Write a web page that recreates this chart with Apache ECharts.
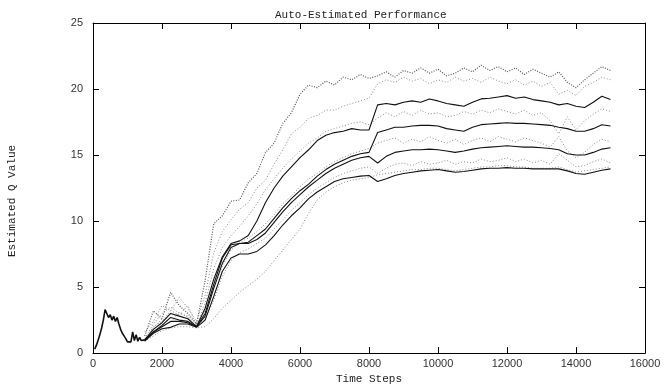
<!DOCTYPE html>
<html>
<head>
<meta charset="utf-8">
<script src="https://cdn.jsdelivr.net/npm/echarts@6/dist/echarts.min.js"></script>
<style>
  html, body { margin: 0; padding: 0; background: #fff; }
  #chart { width: 669px; height: 390px; }
</style>
</head>
<body>
<div id="chart"></div>
<script>
// warm-up segment, all runs overlap here
const warmSteps = [50, 100, 150, 200, 250, 300, 350, 400, 450, 500, 550, 600, 650, 700, 750, 800, 850, 900, 950, 1000,
  1050, 1100, 1150, 1200, 1250, 1300, 1350, 1400, 1450, 1500];
const warmQ = [0.3, 0.6, 1.0, 1.4, 1.9, 2.5, 3.3, 3.0, 2.7, 2.9, 2.5, 2.8, 2.4, 2.7, 2.2, 1.8, 1.5, 1.3, 1.1, 0.85,
  0.8, 0.85, 1.6, 0.95, 1.4, 0.9, 1.2, 0.95, 0.9, 1.0];

const steps = [1500, 1750, 2000, 2250, 2500, 2750, 3000, 3250, 3500, 3750, 4000, 4250, 4500, 4750, 5000, 5250, 5500,
  5750, 6000, 6250, 6500, 6750, 7000, 7250, 7500, 7750, 8000, 8250, 8500, 8750, 9000, 9250, 9500, 9750, 10000,
  10250, 10500, 10750, 11000, 11250, 11500, 11750, 12000, 12250, 12500, 12750, 13000, 13250, 13500, 13750, 14000,
  14250, 14500, 14750, 15000];

// solid runs
const run1 = [1.0, 1.8, 2.3, 3.0, 2.8, 2.6, 2.0, 3.4, 5.6, 7.3, 8.3, 8.5, 8.9, 10.0, 11.4, 12.5, 13.4, 14.1, 14.8,
  15.4, 16.1, 16.5, 16.7, 16.8, 17.0, 16.9, 16.9, 18.8, 18.9, 18.8, 19.0, 19.1, 19.0, 19.25, 19.1, 18.9, 18.8, 18.7,
  19.0, 19.25, 19.3, 19.4, 19.5, 19.3, 19.4, 19.2, 19.1, 19.0, 18.8, 18.9, 18.7, 18.6, 19.0, 19.45, 19.2];
const run2 = [1.0, 1.6, 2.1, 2.7, 2.5, 2.4, 2.0, 3.0, 5.2, 7.2, 8.2, 8.3, 8.4, 8.9, 9.4, 10.2, 11.0, 11.7, 12.3,
  12.8, 13.4, 13.9, 14.3, 14.6, 14.9, 15.1, 15.2, 16.7, 16.9, 17.1, 17.1, 17.2, 17.25, 17.25, 17.2, 17.0, 16.9, 16.8,
  17.1, 17.3, 17.35, 17.4, 17.45, 17.4, 17.4, 17.35, 17.3, 17.25, 17.1, 17.0, 16.8, 16.8, 17.0, 17.3, 17.2];
const run3 = [0.95, 1.6, 2.0, 2.4, 2.4, 2.3, 2.0, 2.8, 4.9, 6.8, 8.0, 8.3, 8.3, 8.6, 9.1, 9.9, 10.7, 11.4, 12.0,
  12.6, 13.1, 13.6, 14.0, 14.3, 14.6, 14.8, 14.9, 14.4, 14.9, 15.2, 15.3, 15.4, 15.4, 15.45, 15.4, 15.3, 15.2, 15.3,
  15.45, 15.55, 15.6, 15.65, 15.7, 15.65, 15.6, 15.6, 15.55, 15.5, 15.4, 15.1, 15.0, 15.0, 15.2, 15.45, 15.55];
const run4 = [0.9, 1.5, 1.85, 1.95, 2.2, 2.2, 1.95, 2.5, 4.3, 6.2, 7.2, 7.5, 7.5, 7.7, 8.2, 8.9, 9.7, 10.4, 11.0,
  11.7, 12.2, 12.6, 13.0, 13.2, 13.3, 13.4, 13.45, 13.0, 13.2, 13.45, 13.6, 13.7, 13.8, 13.85, 13.9, 13.8, 13.7, 13.75,
  13.85, 13.95, 14.0, 14.0, 14.05, 14.0, 14.0, 13.95, 13.95, 13.95, 13.95, 13.8, 13.6, 13.55, 13.7, 13.85, 13.95];

// dotted runs
const dotTop = [1.3, 3.2, 2.6, 4.6, 3.6, 3.0, 2.2, 5.5, 9.8, 10.4, 11.5, 11.6, 12.9, 13.6, 15.2, 15.9, 17.4, 18.2,
  19.6, 20.3, 20.1, 20.6, 20.3, 20.9, 20.7, 21.1, 20.8, 21.0, 21.3, 20.9, 21.4, 21.2, 21.6, 21.2, 21.5, 21.0, 21.2,
  21.6, 21.3, 21.8, 21.4, 21.7, 21.3, 21.6, 21.1, 21.5, 21.2, 20.9, 21.3, 20.5, 20.1, 20.7, 21.2, 21.7, 21.4];
const dotA = [1.6, 2.4, 3.6, 3.2, 4.2, 3.4, 2.4, 4.4, 7.6, 9.2, 10.1, 10.9, 11.4, 12.5, 13.1, 14.3, 15.4, 16.6, 17.1,
  17.8, 18.0, 18.4, 18.4, 18.7, 18.9, 19.1, 19.3, 20.4, 20.7, 20.5, 20.9, 20.6, 20.8, 20.4, 20.7, 20.5, 20.9, 20.6,
  20.8, 20.5, 20.9, 20.6, 20.4, 20.7, 20.3, 20.6, 20.2, 20.5, 19.6, 19.9, 19.5, 20.2, 20.5, 20.9, 20.7];
const dotB = [1.1, 2.2, 3.0, 3.5, 3.0, 2.8, 2.1, 3.8, 6.4, 8.0, 8.9, 9.6, 10.4, 11.3, 12.4, 13.2, 14.0, 14.7, 15.3,
  15.9, 16.3, 16.8, 17.0, 17.2, 17.4, 17.5, 17.3, 17.8, 18.2, 17.9, 18.3, 18.0, 18.4, 18.1, 18.2, 17.9, 18.0, 18.3,
  18.1, 18.4, 18.2, 18.5, 18.3, 18.1, 18.4, 18.0, 18.2, 17.6, 16.6, 17.9, 16.9, 17.6, 18.1, 18.5, 18.3];
const dotC = [1.0, 2.0, 2.4, 3.2, 2.9, 3.6, 2.1, 3.2, 5.0, 6.6, 7.8, 8.4, 8.7, 9.2, 9.8, 10.5, 11.3, 11.9, 12.6,
  13.2, 13.6, 14.1, 14.5, 14.8, 15.1, 15.3, 15.5, 15.9, 16.1, 16.3, 15.9, 16.2, 16.0, 16.4, 16.1, 15.9, 16.2, 15.8,
  16.1, 16.3, 16.0, 16.4, 16.2, 16.0, 16.3, 16.1, 15.9, 15.6, 16.4, 15.3, 14.8, 15.2, 15.8, 16.2, 16.0];
const dotD = [0.9, 1.9, 2.6, 2.3, 3.1, 2.7, 2.0, 2.6, 4.0, 5.8, 7.0, 7.6, 7.9, 8.3, 8.7, 9.4, 10.1, 10.8, 11.4,
  12.0, 12.5, 12.9, 13.3, 13.6, 13.8, 14.0, 14.1, 13.6, 14.0, 14.3, 14.4, 14.2, 14.5, 14.3, 14.4, 14.6, 14.3, 14.5,
  14.4, 14.7, 14.5, 14.6, 14.8, 14.5, 14.7, 14.4, 14.6, 14.3, 15.1, 14.6, 14.1, 14.2, 14.5, 14.7, 14.4];
const dotE = [0.9, 1.3, 1.7, 1.9, 2.0, 2.0, 1.9, 2.0, 2.6, 3.4, 4.0, 4.6, 5.1, 5.6, 6.2, 7.0, 7.8, 8.6, 9.4,
  10.6, 11.6, 12.2, 12.6, 12.9, 13.1, 13.2, 13.3, 13.5, 13.6, 13.7, 13.8, 13.9, 13.9, 14.0, 14.0, 13.9, 13.8, 13.9,
  14.0, 14.1, 14.1, 14.2, 14.2, 14.1, 14.1, 14.0, 14.0, 14.0, 14.1, 13.9, 13.7, 13.8, 13.9, 14.0, 14.1];

const xTicks = [0, 2000, 4000, 6000, 8000, 10000, 12000, 14000, 16000];
const yTicks = [0, 5, 10, 15, 20, 25];

const pair = (xs, ys) => xs.map((x, i) => [x, ys[i]]);

const monoFont = "Liberation Mono";
const sansFont = "Liberation Sans";

const chart = echarts.init(document.getElementById("chart"), null, { renderer: "canvas" });

const dottedRuns = [dotE, dotD, dotC, dotB, dotA];
const solidRuns = [run4, run3, run2, run1];

const series = [];
dottedRuns.forEach((d) => {
  series.push({
    type: "line",
    data: pair(steps, d),
    showSymbol: false,
    silent: true,
    lineStyle: { color: "#8a8a8a", width: 1, type: [1, 2] },
  });
});
series.push({
  type: "line",
  data: pair(steps, dotTop),
  showSymbol: false,
  silent: true,
  lineStyle: { color: "#555", width: 1.2, type: [1, 1.5] },
});
solidRuns.forEach((d) => {
  series.push({
    type: "line",
    data: pair(steps, d),
    showSymbol: false,
    silent: true,
    lineStyle: { color: "#111", width: 1.1 },
  });
});
series.push({
  type: "line",
  data: pair(warmSteps, warmQ),
  showSymbol: false,
  silent: true,
  lineStyle: { color: "#111", width: 1.6 },
});

// onZero off, otherwise the top/right axes snap onto the bottom/left ones
const axisLine = { show: true, onZero: false, lineStyle: { color: "#000", width: 1 } };
const axisTick = { show: true, inside: true, length: 6, lineStyle: { color: "#000" } };
const plain = (v) => String(v);

const option = {
  animation: false,
  backgroundColor: "#fff",
  title: {
    text: "Auto-Estimated Performance",
    left: 270,
    top: 5,
    textStyle: { fontFamily: monoFont, fontSize: 11, fontWeight: "normal", color: "#222" },
  },
  graphic: [
    {
      type: "text",
      x: 12,
      y: 201,
      rotation: Math.PI / 2,
      style: {
        text: "Estimated Q Value",
        fontFamily: monoFont,
        fontSize: 11,
        fill: "#222",
        align: "center",
        verticalAlign: "middle",
      },
    },
  ],
  grid: { left: 93, right: 24, top: 23, bottom: 31 },
  xAxis: [
    {
      type: "value",
      min: xTicks[0],
      max: xTicks[xTicks.length - 1],
      interval: 2000,
      position: "bottom",
      name: "Time Steps",
      nameLocation: "middle",
      nameGap: 17,
      nameTextStyle: { fontFamily: monoFont, fontSize: 11, color: "#222" },
      axisLine,
      axisTick,
      axisLabel: { fontFamily: sansFont, fontSize: 11, color: "#333", margin: 5, formatter: plain },
      splitLine: { show: false },
    },
    {
      type: "value",
      min: xTicks[0],
      max: xTicks[xTicks.length - 1],
      interval: 2000,
      position: "top",
      axisLine,
      axisTick,
      axisLabel: { show: false },
      splitLine: { show: false },
    },
  ],
  yAxis: [
    {
      type: "value",
      min: yTicks[0],
      max: yTicks[yTicks.length - 1],
      interval: 5,
      position: "left",
      axisLine,
      axisTick,
      axisLabel: { fontFamily: sansFont, fontSize: 11, color: "#333", margin: 10, formatter: plain },
      splitLine: { show: false },
    },
    {
      type: "value",
      min: yTicks[0],
      max: yTicks[yTicks.length - 1],
      interval: 5,
      position: "right",
      axisLine,
      axisTick,
      axisLabel: { show: false },
      splitLine: { show: false },
    },
  ],
  series,
};

chart.setOption(option);
</script>
</body>
</html>
